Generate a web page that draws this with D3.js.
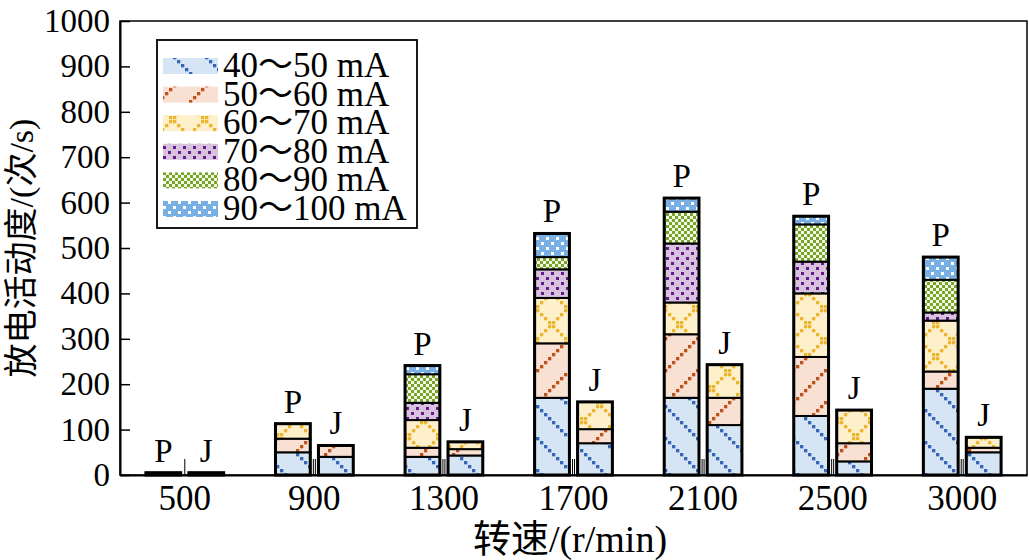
<html>
<head>
<meta charset="utf-8">
<style>
  body { margin: 0; background: #fff; }
  text { fill: #000; }
  .axis path, .axis line { stroke: #000; }
</style>
</head>
<body>
<svg width="1029" height="560"></svg>
<script src="https://d3js.org/d3.v7.min.js"></script>
<script>
// categories
var speeds = ["500", "900", "1300", "1700", "2100", "2500", "3000"];
var groups = ["P", "J"];
var ranges = ["40～50 mA", "50～60 mA", "60～70 mA", "70～80 mA", "80～90 mA", "90～100 mA"];
var yTicks = [0, 100, 200, 300, 400, 500, 600, 700, 800, 900, 1000];

// P (per current range, per speed)
var p40_50  = [5, 50, 40, 170, 170, 130, 190];
var p50_60  = [0, 30, 20, 120, 140, 130, 38];
var p60_70  = [0, 33, 61, 100, 70, 140, 112];
var p70_80  = [0, 0, 38, 63, 130, 70, 18];
var p80_90  = [0, 0, 63, 27, 70, 82, 72];
var p90_100 = [0, 0, 19, 52, 30, 18, 50];

// J
var j40_50  = [5, 40, 43, 70, 110, 30, 50];
var j50_60  = [0, 25, 14, 31, 60, 40, 10];
var j60_70  = [0, 0, 16, 60, 73, 73, 23];
var j70_80  = [0, 0, 0, 0, 0, 0, 0];
var j80_90  = [0, 0, 0, 0, 0, 0, 0];
var j90_100 = [0, 0, 0, 0, 0, 0, 0];

var series = {
  P: [p40_50, p50_60, p60_70, p70_80, p80_90, p90_100],
  J: [j40_50, j50_60, j60_70, j70_80, j80_90, j90_100]
};

var svg = d3.select("svg");
var margin = {top: 21, right: 2, bottom: 85, left: 120};
var width = +svg.attr("width") - margin.left - margin.right;
var height = +svg.attr("height") - margin.top - margin.bottom;
var serif = "'Liberation Serif', 'Noto Sans CJK SC', serif";

// fill patterns
var defs = svg.append("defs");
function pattern(id, size, bg, fg, cells, sq) {
  var p = defs.append("pattern").attr("id", id)
    .attr("patternUnits", "userSpaceOnUse")
    .attr("width", size).attr("height", size);
  p.append("rect").attr("width", size).attr("height", size).attr("fill", bg);
  cells.forEach(function(c) {
    p.append("rect").attr("x", c[0]).attr("y", c[1])
      .attr("width", sq).attr("height", sq).attr("fill", fg);
  });
}
var down = d3.range(8).map(function(k) { return [k * 4, k * 4]; });
var up = d3.range(8).map(function(k) { return [k * 4, 28 - k * 4]; });
pattern("pat0", 32, "#d5e5f3", "#3466bd", down, 3.3);
pattern("pat1", 32, "#f8e1d3", "#c0511a", up, 3.3);
pattern("pat2", 32, "#fdf0cb", "#ebb530", down.concat(up), 3.3);
pattern("pat3", 10, "#d8c3de", "#65198a", [[1, 1], [6, 6]], 3);
pattern("pat4", 6, "#f3f8e8", "#78a528", [[0, 0], [3, 3]], 3);
pattern("pat5", 10, "#78b0e6", "#ffffff", [[1, 1], [6, 6]], 3);

var g = svg.append("g").attr("transform", "translate(" + margin.left + "," + margin.top + ")");

var x0 = d3.scaleBand().domain(speeds).range([0, width]).paddingInner(0.4).paddingOuter(0.2);
var x1 = d3.scaleBand().domain(groups).range([0, x0.bandwidth()]).paddingInner(0.19);
var y = d3.scaleLinear().domain([0, 1000]).range([height, 0]);

// frame
g.append("rect").attr("width", width).attr("height", height)
  .attr("fill", "none").attr("stroke", "#000").attr("stroke-width", 1.5);

// bars
speeds.forEach(function(s, i) {
  groups.forEach(function(k) {
    var bx = x0(s) + x1(k);
    var base = 0;
    series[k].forEach(function(arr, r) {
      var v = arr[i];
      if (v > 0) {
        g.append("rect")
          .attr("x", bx).attr("width", x1.bandwidth())
          .attr("y", y(base + v)).attr("height", y(base) - y(base + v))
          .attr("fill", "url(#pat" + r + ")")
          .attr("stroke", "#000").attr("stroke-width", 2);
      }
      base += v;
    });
    g.append("rect")
      .attr("x", bx).attr("width", x1.bandwidth())
      .attr("y", y(base)).attr("height", y(0) - y(base))
      .attr("fill", "none").attr("stroke", "#000").attr("stroke-width", 3);
    g.append("text")
      .attr("x", bx + x1.bandwidth() / 2).attr("y", y(base) - 11)
      .attr("text-anchor", "middle")
      .style("font-family", serif).style("font-size", "33px")
      .text(k);
  });
  // small double mark between P and J
  var cx = x0(s) + x0.bandwidth() / 2;
  var offs = i === 0 ? [0] : [-1, 1];
  offs.forEach(function(o) {
    g.append("line").attr("x1", cx + o).attr("x2", cx + o)
      .attr("y1", height).attr("y2", height - 16)
      .attr("stroke", "#000").attr("stroke-width", 1);
  });
});

// axes
var xAxis = g.append("g")
  .attr("class", "axis")
  .attr("transform", "translate(0," + height + ")")
  .call(d3.axisBottom(x0).tickSize(0).tickPadding(10));
xAxis.select(".domain").attr("stroke-width", 2);
xAxis.selectAll("text")
  .style("font-family", serif).style("font-size", "35px");

var yAxis = g.append("g")
  .attr("class", "axis")
  .call(d3.axisLeft(y).tickValues(yTicks).tickFormat(d3.format("d"))
    .tickSizeInner(-10).tickSizeOuter(0).tickPadding(10));
yAxis.select(".domain").attr("stroke-width", 2);
yAxis.selectAll("line").attr("stroke-width", 1.5);
yAxis.selectAll("text")
  .style("font-family", serif).style("font-size", "33px");

// axis titles
svg.append("text")
  .attr("transform", "translate(33,248) rotate(-90)")
  .attr("text-anchor", "middle")
  .style("font-family", serif).style("font-size", "34px")
  .text("放电活动度/(次/s)");
svg.append("text")
  .attr("x", 570).attr("y", 552)
  .attr("text-anchor", "middle")
  .style("font-family", serif).style("font-size", "38px")
  .text("转速/(r/min)");

// legend
var legend = svg.append("g").attr("transform", "translate(157,40)");
legend.append("rect").attr("width", 260).attr("height", 188)
  .attr("fill", "#fff").attr("stroke", "#000").attr("stroke-width", 1.8);
ranges.forEach(function(r, i) {
  var ry = 26 + i * 28.6;
  legend.append("rect").attr("x", 6).attr("y", ry - 8).attr("width", 55).attr("height", 16)
    .attr("fill", "url(#pat" + i + ")");
  legend.append("text").attr("x", 66).attr("y", ry + 11)
    .style("font-family", serif).style("font-size", "35px")
    .text(r);
});
</script>
</body>
</html>
